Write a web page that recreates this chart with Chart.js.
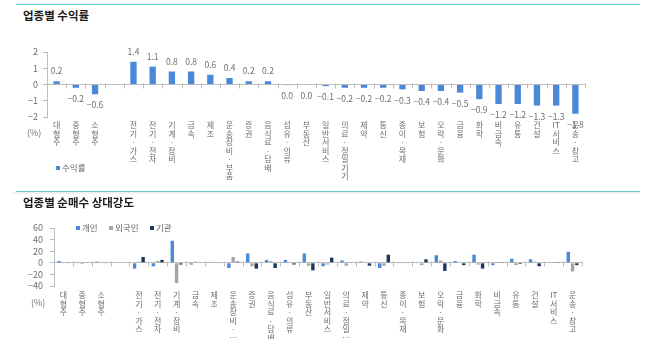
<!DOCTYPE html>
<html>
<head>
<meta charset="utf-8">
<script src="https://cdn.jsdelivr.net/npm/chart.js@4.4.1/dist/chart.umd.min.js"></script>
<style>
body{margin:0;background:#fff;font-family:"Noto Sans CJK KR",sans-serif;}
#wrap{position:relative;width:670px;height:339px;overflow:hidden;background:#fff;}
.rule{position:absolute;left:16px;width:624px;height:1px;background:#62cdd3;}
.fade{position:absolute;left:13px;width:627px;height:2px;background:#f1f1f1;}
.title{position:absolute;left:23px;font-size:11.5px;font-weight:bold;color:#1a1a1a;line-height:14px;white-space:nowrap;}
.unit{position:absolute;font-size:9px;color:#777;line-height:10px;}
.lg{position:absolute;font-size:8.5px;color:#666;line-height:10px;white-space:nowrap;}
.lg i{display:inline-block;width:4px;height:4px;margin-right:2px;vertical-align:1px;}
canvas{position:absolute;left:0;}
</style>
</head>
<body>
<div id="wrap">
  <div class="rule" style="top:4px"></div>
  <div class="title" style="top:8px">업종별 수익률</div>
  <canvas id="c1" width="670" height="175" style="top:20px"></canvas>
  <div class="unit" style="left:27px;top:128px">(%)</div>
  <div class="lg" style="left:56px;top:162px"><i style="background:#4a89d8"></i>수익률</div>
  <div class="fade" style="top:192px"></div>

  <div class="rule" style="top:191px"></div>
  <div class="title" style="top:195px">업종별 순매수 상대강도</div>
  <canvas id="c2" width="670" height="134" style="top:205px"></canvas>
  <div class="unit" style="left:31px;top:298px">(%)</div>
  <div class="lg" style="left:76px;top:222px"><i style="background:#4a89d8"></i>개인</div>
  <div class="lg" style="left:109px;top:222px"><i style="background:#a6a6a6"></i>외국인</div>
  <div class="lg" style="left:150px;top:222px"><i style="background:#1f3760"></i>기관</div>
</div>
<script>
// 업종 (빈 칸은 소형주와 전기·가스 사이 간격)
var categories = ['대형주', '중형주', '소형주', '', '전기·가스', '전기·전자', '기계·장비', '금속', '제조',
    '운송장비·부품', '증권', '음식료·담배', '섬유·의류', '부동산', '일반서비스', '의료·정밀기기', '제약', '통신',
    '종이·목재', '보험', '오락·문화', '금융', '화학', '비금속', '유통', '건설', 'IT 서비스', '운송·창고'];
var categoriesShort = ['대형주', '중형주', '소형주', '', '전기·가스', '전기·전자', '기계·장비', '금속', '제조',
    '운송장비·…', '증권', '음식료·담배', '섬유·의류', '부동산', '일반서비스', '의료·정밀…', '제약', '통신',
    '종이·목재', '보험', '오락·문화', '금융', '화학', '비금속', '유통', '건설', 'IT 서비스', '운송·창고'];

// 수익률 (%)
var returns = [0.2, -0.2, -0.6, null, 1.4, 1.1, 0.8, 0.8, 0.6, 0.4, 0.2, 0.2, -0.04, -0.03, -0.1, -0.2, -0.2,
    -0.2, -0.3, -0.4, -0.4, -0.5, -0.9, -1.2, -1.2, -1.3, -1.3, -1.8];

// 순매수 상대강도 (%)
var individual  = [3, -1, 2, null, -10, -6, 38, -3, 1, -9, 16, 5, 5, 16, -6, 4, 2, -9, 0.5, -1, 13, 3, 14, -4, 7, 6, 1, 19];
var foreign     = [1, -2, -1, null, 2, 3, -35, 2, 0.5, 10, -6, 3, 0.5, -5, -3, -5, 0.5, -5, 1, -4, 4, 1, -3, 1, -4, 2, 0.5, -15];
var institution = [-1, 1, -1, null, 10, 5, -3, 1, -1, 2, -10, -9, -3, -13, 9, 1, -5, 14, -1, 6, -14, -4, -10, 0.5, -2, -6, 0.5, -4];

var returnRange = [-2, 2, 1];
var flowRange = [-40, 60, 20];

var FONT = '"Noto Sans CJK KR", sans-serif';
var BLUE = '#4a89d8', GRAY = '#a6a6a6', NAVY = '#1f3760';
var AXIS = '#bdbdbd', TEXT = '#6e6e6e';

// 세로쓰기: 글자 하나씩 한 줄
function stack(label){
    var out = [];
    Array.from(label).forEach(function(ch){
        if(ch === ' ') return;
        var last = out[out.length - 1];
        if(/[A-Za-z]/.test(ch) && last && /^[A-Za-z]+$/.test(last)){
            out[out.length - 1] = last + ch;
        } else {
            out.push(ch);
        }
    });
    return out.length ? out : [''];
}

function minus(v){
    return v < 0 ? '\u2212' + Math.abs(v) : String(v);
}

function fmt(v){
    if(Math.abs(v) < 0.05) return '0.0';
    return (v < 0 ? '\u2212' : '') + Math.abs(v).toFixed(1);
}

// 값 라벨 (수익률 차트만)
var valueLabels = {
    id: 'valueLabels',
    afterDatasetsDraw: function(chart){
        var ctx = chart.ctx;
        var meta = chart.getDatasetMeta(0);
        ctx.save();
        ctx.font = '8.5px ' + FONT;
        ctx.fillStyle = TEXT;
        ctx.textAlign = 'center';
        ctx.textBaseline = 'middle';
        meta.data.forEach(function(bar, i){
            var v = returns[i];
            if(v === null) return;
            var y = v < 0 ? bar.y + 11 : bar.y - 10;
            ctx.fillText(fmt(v), bar.x, y);
        });
        ctx.restore();
    }
};

// 0선 위 업종 구분 눈금
var zeroTicks = {
    id: 'zeroTicks',
    afterDraw: function(chart){
        var xs = chart.scales.x, ys = chart.scales.y;
        var y0 = Math.round(ys.getPixelForValue(0)) + 0.5;
        var n = xs.ticks.length;
        var step = xs.getPixelForTick(1) - xs.getPixelForTick(0);
        var ctx = chart.ctx;
        ctx.save();
        ctx.strokeStyle = AXIS;
        ctx.lineWidth = 1;
        ctx.beginPath();
        for(var i = 0; i <= n; i++){
            var px = Math.round(xs.getPixelForTick(0) + (i - 0.5) * step) + 0.5;
            ctx.moveTo(px, y0 - 2);
            ctx.lineTo(px, y0 + 3);
        }
        ctx.stroke();
        ctx.restore();
    }
};

function scalesFor(range, leftWidth, axisHeight, tickPad, labelPad){
    return {
        x: {
            grid: {display: false, drawTicks: false},
            border: {display: false},
            ticks: {autoSkip: false, maxRotation: 0, minRotation: 0, padding: labelPad, color: TEXT,
                font: {family: FONT, size: 8, lineHeight: '8.5px'}},
            afterFit: function(s){ s.height = axisHeight; }
        },
        y: {
            min: range[0], max: range[1],
            ticks: {stepSize: range[2], autoSkip: false, padding: tickPad, color: TEXT, font: {family: FONT, size: 9},
                callback: function(v){ return minus(v); }},
            grid: {
                color: function(c){ return c.tick && c.tick.value === 0 ? AXIS : 'rgba(0,0,0,0)'; },
                tickColor: AXIS, tickLength: 4
            },
            border: {color: AXIS},
            afterFit: function(s){ s.width = leftWidth; }
        }
    };
}

new Chart(document.getElementById('c1'), {
    type: 'bar',
    data: {
        labels: categories.map(stack),
        datasets: [{
            label: '수익률', data: returns, backgroundColor: BLUE,
            barPercentage: 0.33, categoryPercentage: 1
        }]
    },
    options: {
        responsive: false, animation: false, devicePixelRatio: 1,
        layout: {padding: {top: 32, right: 85, left: 0, bottom: 4}},
        plugins: {legend: {display: false}, tooltip: {enabled: false}},
        scales: scalesFor(returnRange, 47, 74, 5, 4)
    },
    plugins: [valueLabels, zeroTicks]
});

new Chart(document.getElementById('c2'), {
    type: 'bar',
    data: {
        labels: categoriesShort.map(stack),
        datasets: [
            {label: '개인', data: individual, backgroundColor: BLUE},
            {label: '외국인', data: foreign, backgroundColor: GRAY},
            {label: '기관', data: institution, backgroundColor: NAVY}
        ].map(function(d){
            d.barPercentage = 0.8; d.categoryPercentage = 0.68;
            return d;
        })
    },
    options: {
        responsive: false, animation: false, devicePixelRatio: 1,
        layout: {padding: {top: 23, right: 88, left: 0, bottom: 0}},
        plugins: {legend: {display: false}, tooltip: {enabled: false}},
        scales: scalesFor(flowRange, 54, 53, 7, 5)
    },
    plugins: [zeroTicks]
});
</script>
</body>
</html>
